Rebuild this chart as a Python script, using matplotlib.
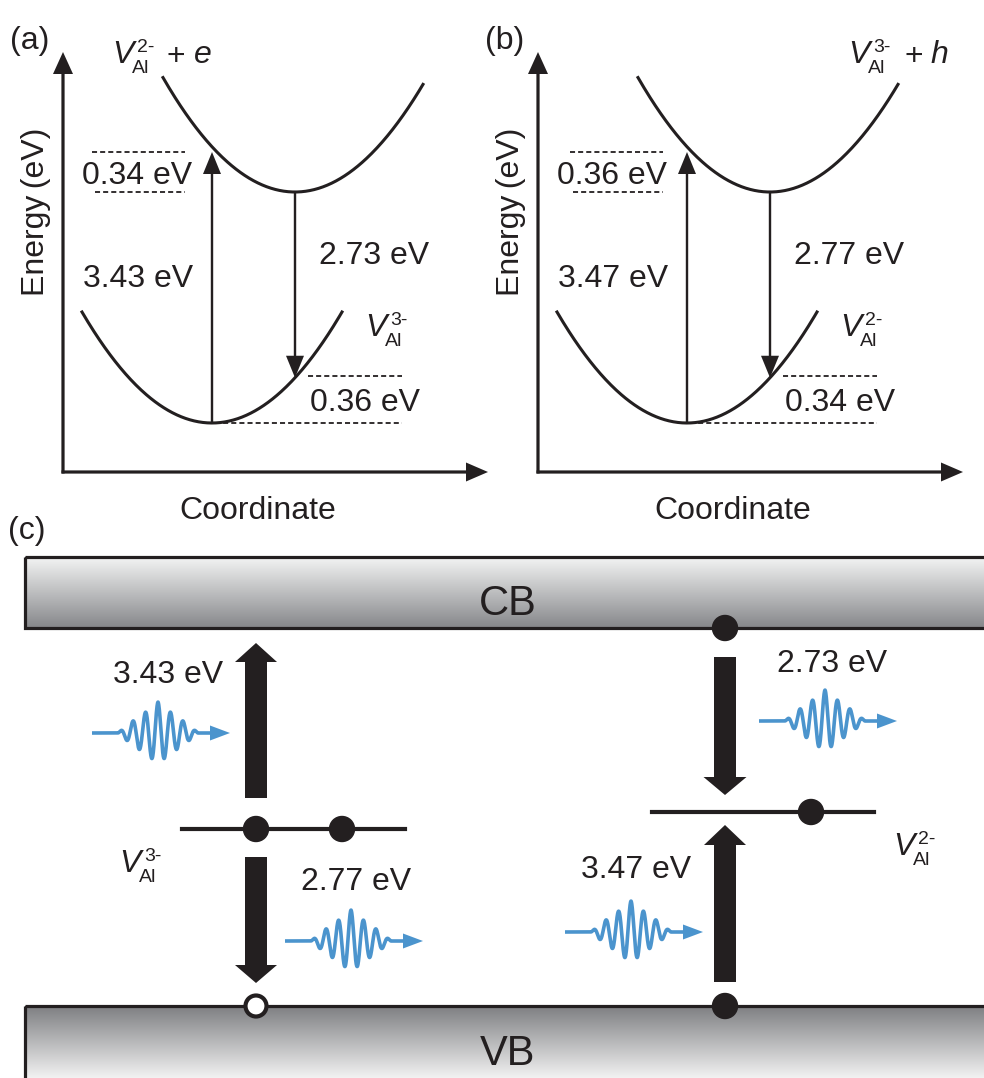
"""Configuration-coordinate diagrams and band-level transition scheme for V_Al"""
import numpy as np
import matplotlib
matplotlib.use('Agg')
import matplotlib.pyplot as plt
from matplotlib.patches import FancyArrow, Circle, Rectangle

plt.rcParams['font.family'] = ['Liberation Sans', 'DejaVu Sans']

# ---- values (eV) ----
panel_tags = ['(a)', '(b)']
upper_charge = ['2-', '3-']          # charge of the excited-state vacancy
upper_carrier = ['e', 'h']           # free carrier in the excited state
lower_charge = ['3-', '2-']          # charge of the ground-state vacancy
absorption = [3.43, 3.47]
emission = [2.73, 2.77]
upper_relax = [0.34, 0.36]
lower_relax = [0.36, 0.34]

# panel (c): left = V_Al^3-, right = V_Al^2-
c_charge = ['3-', '2-']
c_up = [3.43, 3.47]
c_down = [2.77, 2.73]

W, H = 984, 1078
FS = 23      # main text size
SUB = 14     # sub/superscript size
INK = '#231f20'
BLUE = '#4b94cd'

fig = plt.figure(figsize=(W / 100, H / 100), dpi=100)
ax = fig.add_axes([0, 0, 1, 1])
ax.set_xlim(0, W)
ax.set_ylim(H, 0)
ax.axis('off')


def label(x, yc, s, fs=FS, ha='center', **kw):
    # place text by the vertical centre of its capitals
    ax.text(x, yc + 0.5 * fs * 100 / 72 * 0.716, s, fontsize=fs, ha=ha,
            va='baseline', color=INK, **kw)


def v_label(x, y, charge):
    # x, y = left edge / baseline of the italic V
    ax.text(x, y, 'V', fontsize=FS, style='italic', ha='left', va='baseline', color=INK)
    ax.text(x + 20, y + 10, 'Al', fontsize=SUB, ha='left', va='baseline', color=INK)
    ax.text(x + 25, y - 11, charge, fontsize=SUB, ha='left', va='baseline', color=INK)


def arrow(x0, y0, x1, y1, w, hw, hl, color=INK):
    ax.add_patch(FancyArrow(x0, y0, x1 - x0, y1 - y0, width=w, head_width=hw,
                            head_length=hl, length_includes_head=True,
                            color=color, lw=0))


def dashed(x0, x1, y):
    ax.plot([x0, x1], [y, y], color=INK, lw=1.3, dashes=(2.8, 1.7))


def photon(x0, y0):
    # short wave packet travelling to the right
    xc = x0 + 66
    xs = np.linspace(x0, x0 + 120, 700)
    d = xs - xc
    env = np.exp(-np.abs(d) / 32) * np.clip(1 - (d / 40) ** 4, 0, None)
    ys = y0 - 31 * env * np.cos(2 * np.pi * d / 12.5)
    ax.plot(xs, ys, color=BLUE, lw=2.6, solid_capstyle='butt')
    arrow(x0 + 118, y0, x0 + 138, y0, w=3.6, hw=15, hl=20, color=BLUE)


# =====================================================================
# (a), (b): configuration-coordinate diagrams
# =====================================================================
k = 111 / 130 ** 2
for i, dx in enumerate([0, 475]):
    # axes
    arrow(63 + dx, 473.5, 63 + dx, 52, w=3.2, hw=20, hl=22)
    arrow(61.5 + dx, 472, 488 + dx, 472, w=3.2, hw=19, hl=22)

    xu, yu = 295 + dx, 192     # excited-state minimum
    xl, yl = 212 + dx, 423     # ground-state minimum
    xx = np.linspace(-132, 128, 300)
    ax.plot(xu + xx, yu - k * xx ** 2, color=INK, lw=2.2)
    xx = np.linspace(-130, 130, 300)
    ax.plot(xl + xx, yl - k * xx ** 2, color=INK, lw=2.2)

    # vertical transitions
    y_abs = 152
    arrow(xl, yl, xl, y_abs, w=2.4, hw=18, hl=22)
    y_emit = yl - k * (xu - xl) ** 2
    arrow(xu, yu, xu, y_emit, w=2.4, hw=18, hl=22)

    # relaxation markers
    dashed(92 + dx + 3 * i, 185 + dx + 3 * i, y_abs)
    dashed(95 + dx + 3 * i, 185 + dx + 3 * i, yu)
    dashed(308 + dx, 402 + dx, y_emit - 2)
    dashed(xl + 3, 402 + dx, yl)

    label(10 + dx, 38, panel_tags[i], ha='left')
    label(137 + dx, 173, f'{upper_relax[i]:.2f} eV')
    label(138 + dx, 276, f'{absorption[i]:.2f} eV')
    label(374 + dx, 253, f'{emission[i]:.2f} eV')
    label(365 + dx, 400, f'{lower_relax[i]:.2f} eV')
    v_label(365 + dx, 336, lower_charge[i])

    ax.text(36 + dx, 212, 'Energy\u2009(eV)', fontsize=FS, rotation=90,
            ha='center', va='center', color=INK)
    label(258 + dx, 508, 'Coordinate')

# state labels above the upper parabolas
v_label(112, 63, upper_charge[0])
label(166, 54, '+', ha='left')
ax.text(194, 63, upper_carrier[0], fontsize=FS, style='italic', ha='left',
        va='baseline', color=INK)
v_label(848, 63, upper_charge[1])
label(904, 54, '+', ha='left')
ax.text(930, 63, upper_carrier[1], fontsize=FS, style='italic', ha='left',
        va='baseline', color=INK)

# =====================================================================
# (c): transitions through the vacancy levels
# =====================================================================
label(8, 528, '(c)', ha='left')

cb_top, cb_bot = 557, 628
vb_top, vb_bot = 1006, 1100
grad = np.linspace(0, 1, 256)[:, None]
ax.imshow(grad, cmap=matplotlib.colors.LinearSegmentedColormap.from_list(
    'cb', ['#f3f4f4', '#86878a']), extent=(25, 1000, cb_bot, cb_top),
    origin='upper', aspect='auto', zorder=1)
ax.imshow(grad, cmap=matplotlib.colors.LinearSegmentedColormap.from_list(
    'vb', ['#7e7f82', '#f2f2f2']), extent=(25, 1000, 1078, vb_top),
    origin='upper', aspect='auto', zorder=1)
ax.add_patch(Rectangle((25, cb_top), 980, cb_bot - cb_top, fill=False,
                       ec=INK, lw=2.3, zorder=2))
ax.add_patch(Rectangle((25, vb_top), 980, vb_bot - vb_top, fill=False,
                       ec=INK, lw=2.3, zorder=2))
label(508, 600, 'CB', fs=30)
label(508, 1050, 'VB', fs=30)

# left defect: V_Al^3-
ax.plot([182, 405], [829, 829], color=INK, lw=3)
for x in (256, 342):
    ax.add_patch(Circle((x, 829), 12.5, color=INK, zorder=4))
arrow(256, 798, 256, 643, w=22, hw=42, hl=19)
arrow(256, 857, 256, 983, w=22, hw=42, hl=18)
ax.add_patch(Circle((256, 1006), 10.5, fc='white', ec=INK, lw=3, zorder=4))
v_label(119, 872, c_charge[0])
label(168, 672, f'{c_up[0]:.2f} eV')
photon(92, 733)
label(356, 879, f'{c_down[0]:.2f} eV')
photon(285, 941)

# right defect: V_Al^2-
ax.plot([652, 874], [812, 812], color=INK, lw=3)
ax.add_patch(Circle((811, 812), 12.5, color=INK, zorder=4))
ax.add_patch(Circle((725, 628), 12.5, color=INK, zorder=4))
ax.add_patch(Circle((725, 1006), 12.5, color=INK, zorder=4))
arrow(725, 657, 725, 795, w=22, hw=43, hl=18)
arrow(725, 982, 725, 825, w=22, hw=42, hl=20)
v_label(893, 855, c_charge[1])
label(832, 661, f'{c_down[1]:.2f} eV')
photon(759, 721)
label(636, 867, f'{c_up[1]:.2f} eV')
photon(565, 932)

fig.savefig('out.png', dpi=100, facecolor='white')
